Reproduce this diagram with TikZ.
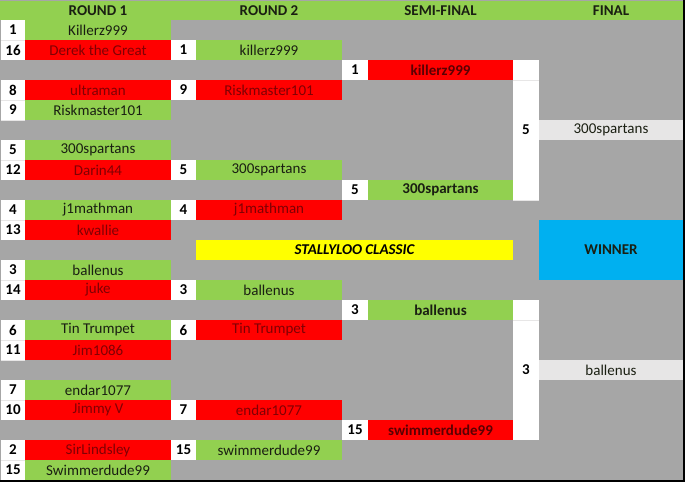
\documentclass[tikz,border=0pt]{standalone}
\usepackage{fontspec}
\setmainfont{Carlito}
\definecolor{bg}{HTML}{A6A6A6}
\definecolor{grn}{HTML}{92D050}
\definecolor{redc}{HTML}{FF0000}
\definecolor{txtred}{HTML}{800004}
\definecolor{txtdk}{HTML}{1A1F12}
\definecolor{lgray}{HTML}{E7E6E6}
\definecolor{yel}{HTML}{FFFF00}
\definecolor{blu}{HTML}{00B0F0}
\newcommand{\cf}{\fontsize{15}{16}\selectfont}
\tikzset{
  cell/.style={anchor=north west, inner sep=0pt, outer sep=0pt, minimum height=20pt, font=\cf},
  colA/.style={cell, minimum width=24pt},
  colB/.style={cell, minimum width=146pt},
  colC/.style={cell, minimum width=25pt},
  colD/.style={cell, minimum width=146pt},
  colE/.style={cell, minimum width=26pt},
  colF/.style={cell, minimum width=145pt},
  colG/.style={cell, minimum width=26pt},
  colH/.style={cell, minimum width=144pt},
  seed/.style={fill=white, text=black, font=\cf\bfseries},
  win/.style={fill=grn, text=txtdk},
  lose/.style={fill=redc, text=txtred},
  fin/.style={fill=lgray, text=txtdk},
  hdr/.style={cell, font=\cf\bfseries, text=txtdk},
}
\begin{document}
\begin{tikzpicture}[x=1pt,y=-1pt]
\useasboundingbox (0,0) rectangle (685,482);
\fill[bg] (0,0) rectangle (685,482);
\fill[grn] (0,1) rectangle (685,20);
\fill[black] (0,480) rectangle (685,482);
\fill[black] (683,0) rectangle (685,482);
% headers
\node[hdr, minimum width=146pt] (h1) at (25,1) {ROUND 1};
\node[hdr, minimum width=146pt] (h2) at (196,1) {ROUND 2};
\node[hdr, minimum width=145pt] (h3) at (368,1) {SEMI-FINAL};
\node[hdr, minimum width=144pt] (h4) at (539,1) {FINAL};
% white connector blocks (column G)
\node[colG, fill=white, minimum height=140pt] (gTop) at (513,60) {};
\node[colG, fill=white, minimum height=140pt] (gBot) at (513,300) {};
% Round 1
\node[colA, seed] (a1) at (1,20) {1};   \node[colB, win]  (b1) at (25,20) {Killerz999};
\node[colA, seed] (a2) at (1,40) {16};  \node[colB, lose] (b2) at (25,40) {Derek the Great};
\node[colA, seed] (a4) at (1,80) {8};   \node[colB, lose] (b4) at (25,80) {ultraman};
\node[colA, seed] (a5) at (1,100) {9};  \node[colB, win]  (b5) at (25,100) {Riskmaster101};
\node[colA, seed] (a7) at (1,140) {5};  \node[colB, win]  (b7) at (25,140) {300spartans};
\node[colA, seed] (a8) at (1,160) {12}; \node[colB, lose] (b8) at (25,160) {Darin44};
\node[colA, seed] (a10) at (1,200) {4}; \node[colB, win]  (b10) at (25,200) {j1mathman};
\node[colA, seed] (a11) at (1,220) {13};\node[colB, lose] (b11) at (25,220) {kwallie};
\node[colA, seed] (a13) at (1,260) {3}; \node[colB, win]  (b13) at (25,260) {ballenus};
\node[colA, seed] (a14) at (1,280) {14};\node[colB, lose] (b14) at (25,280) {juke};
\node[colA, seed] (a16) at (1,320) {6}; \node[colB, win]  (b16) at (25,320) {Tin Trumpet};
\node[colA, seed] (a17) at (1,340) {11};\node[colB, lose] (b17) at (25,340) {Jim1086};
\node[colA, seed] (a19) at (1,380) {7}; \node[colB, win]  (b19) at (25,380) {endar1077};
\node[colA, seed] (a20) at (1,400) {10};\node[colB, lose] (b20) at (25,400) {Jimmy V};
\node[colA, seed] (a22) at (1,440) {2}; \node[colB, lose] (b22) at (25,440) {SirLindsley};
\node[colA, seed] (a23) at (1,460) {15};\node[colB, win]  (b23) at (25,460) {Swimmerdude99};
% Round 2
\node[colC, seed] (c2) at (171,40) {1};   \node[colD, win]  (d2) at (196,40) {killerz999};
\node[colC, seed] (c4) at (171,80) {9};   \node[colD, lose] (d4) at (196,80) {Riskmaster101};
\node[colC, seed] (c8) at (171,160) {5};  \node[colD, win]  (d8) at (196,160) {300spartans};
\node[colC, seed] (c10) at (171,200) {4}; \node[colD, lose] (d10) at (196,200) {j1mathman};
\node[colC, seed] (c14) at (171,280) {3}; \node[colD, win]  (d14) at (196,280) {ballenus};
\node[colC, seed] (c16) at (171,320) {6}; \node[colD, lose] (d16) at (196,320) {Tin Trumpet};
\node[colC, seed] (c20) at (171,400) {7}; \node[colD, lose] (d20) at (196,400) {endar1077};
\node[colC, seed] (c22) at (171,440) {15};\node[colD, win]  (d22) at (196,440) {swimmerdude99};
% Semi-final
\node[colE, seed] (e3) at (342,60) {1};   \node[colF, lose, text=txtred!70!black, font=\cf\bfseries] (f3) at (368,60) {killerz999};
\node[colE, seed] (e9) at (342,180) {5};  \node[colF, win, font=\cf\bfseries]  (f9) at (368,180) {300spartans};
\node[colE, seed] (e15) at (342,300) {3}; \node[colF, win, font=\cf\bfseries]  (f15) at (368,300) {ballenus};
\node[colE, seed] (e21) at (342,420) {15};\node[colF, lose, text=txtred!70!black, font=\cf\bfseries] (f21) at (368,420) {swimmerdude99};
% Final
\node[colG, seed] (g6) at (513,120) {5};  \node[colH, fin] (h6) at (539,120) {300spartans};
\node[colG, seed] (g18) at (513,360) {3}; \node[colH, fin] (h18) at (539,360) {ballenus};
% Title and winner
\node[cell, fill=yel, minimum width=317pt, text=black, font=\cf\bfseries\itshape] (title) at (196,240) {STALLYLOO CLASSIC};
\node[colH, fill=blu, minimum height=60pt, text=txtdk, font=\cf\bfseries] (winner) at (539,220) {WINNER};
% faint cell gridlines in white columns
\foreach \y in {40,100,120,160,220,280,340,360,400,460} \draw[lgray, line width=0.6pt] (1,\y) -- (25,\y);
\draw[lgray, line width=0.6pt] (513,80) -- (539,80);
\draw[lgray, line width=0.6pt] (513,200) -- (539,200);
\draw[lgray, line width=0.6pt] (513,320) -- (539,320);
\end{tikzpicture}
\end{document}
